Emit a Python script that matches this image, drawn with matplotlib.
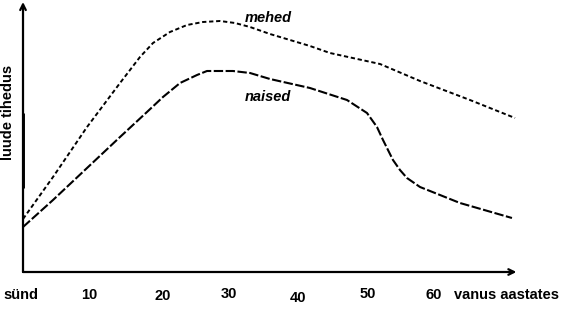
import matplotlib
matplotlib.use("Agg")
import matplotlib.pyplot as plt

# data (age in years, bone density in arbitrary units)
mehed_age = [0, 4.33, 9.24, 14.0, 15.44, 16.88, 18.76, 21.21, 23.67, 25.97, 28.43, 30.59,
             32.76, 35.64, 41.41, 44.3, 51.52, 57.29, 64.5, 71.0]
mehed_val = [53, 95, 145, 189, 202, 215, 229, 240, 247, 250, 251, 249,
             245, 238, 226, 219, 208, 191, 172, 154]
naised_age = [0, 4.33, 9.24, 14.0, 17.89, 20.2, 22.66, 25.11, 26.55, 28.43, 30.3, 32.76,
              35.64, 41.41, 46.75, 49.64, 51.08, 51.95, 53.39, 54.4, 55.41, 57.29, 63.06, 70.56]
naised_val = [45, 72, 104, 135, 160, 175, 189, 197, 201, 201, 201, 199,
              193, 184, 172, 159, 145, 132, 112, 102, 94, 85, 69, 54]
tick_ages = [0, 10, 20, 30, 40, 50, 60]
tick_labels = ["sünd", "10", "20", "30", "40", "50", "60"]

plt.rcParams['font.family'] = ['Liberation Sans', 'DejaVu Sans']

fig = plt.figure(figsize=(5.85, 3.24), dpi=100)
ax = fig.add_axes([0, 0, 1, 1])
ax.set_xlim(-3.32, 81.1)
ax.set_ylim(-52, 272)
ax.axis('off')

# axes with arrows
ax.annotate("", xy=(71.2, 0), xytext=(0, 0),
            arrowprops=dict(arrowstyle="->", lw=1.6, color="black", shrinkA=0, shrinkB=0,
                            mutation_scale=10))
ax.annotate("", xy=(0, 270), xytext=(0, 0),
            arrowprops=dict(arrowstyle="->", lw=1.6, color="black", shrinkA=0, shrinkB=0,
                            mutation_scale=10))
ax.plot([0.05, 0.05], [84, 159], color="black", lw=2.1, solid_capstyle="butt")

# curves
ax.plot(mehed_age, mehed_val, color="black", lw=1.4, dashes=(2.2, 1.4))
ax.plot(naised_age, naised_val, color="black", lw=1.5, dashes=(4.5, 1.2))

# curve labels
ax.text(35.35, 253.5, "mehed", ha="center", va="center", fontsize=10.5,
        fontweight="bold", fontstyle="italic")
ax.text(35.35, 175, "naised", ha="center", va="center", fontsize=10.5,
        fontweight="bold", fontstyle="italic")

# tick labels
dx = [-0.3, -0.4, 0.1, -0.3, -0.3, -0.3, -0.7]
dy = [-23, -23, -23.5, -22.5, -25.5, -21.5, -23]
for a, lab, ox, oy in zip(tick_ages, tick_labels, dx, dy):
    ax.text(a + ox, oy, lab, ha="center", va="center", fontsize=10.5, fontweight="bold")
ax.text(69.7, -23, "vanus aastates", ha="center", va="center", fontsize=10.5, fontweight="bold")

ax.text(-2.16, 160, "luude tihedus", ha="center", va="center", rotation=90,
        fontsize=10.5, fontweight="bold")

fig.savefig("out.png", dpi=100)
